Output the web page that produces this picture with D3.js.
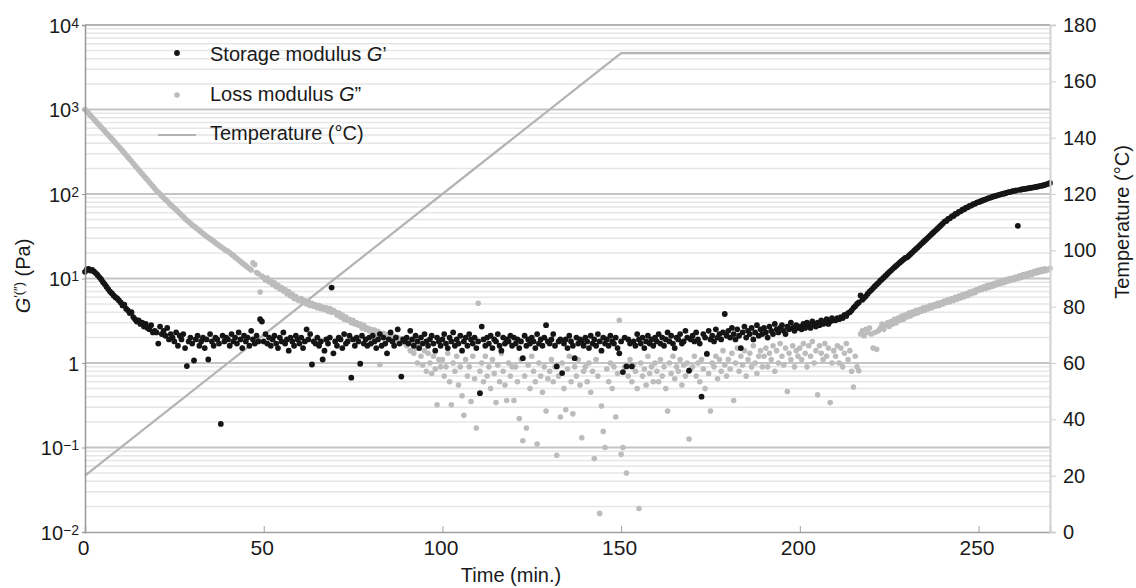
<!DOCTYPE html>
<html>
<head>
<meta charset="utf-8">
<script src="https://cdn.jsdelivr.net/npm/d3@7"></script>
<style>
    body { margin: 0; background: #fff; }
    svg text { font-family: "Liberation Sans", Arial, sans-serif; fill: #1a1a1a; }
</style>
</head>
<body>
<div id="chart"></div>
<script>
// sampling of the rheometer: one reading every half minute from t = 0
const timeStart = 0;
const timeStep = 0.5;

// storage modulus G' (Pa)
const storageModulus = [
    12, 12.8, 13, 12.4, 12.6, 12.1, 11.6, 11.0, 10.4, 9.8, 9.1, 8.6, 8.0, 7.5, 7.0, 6.7, 6.3, 6.0, 5.8, 5.5,
    5.2, 4.8, 4.9, 4.4, 4.2, 3.9, 4.0, 3.5, 3.3, 3.1, 3.2, 2.9, 3.0, 2.7, 2.9, 2.6, 2.5, 2.8, 2.3, 2.4,
    2.3, 1.7, 2.7, 2.2, 2.4, 2.1, 2.6, 1.9, 2.2, 2.0, 1.8, 2.3, 1.6, 2.1, 1.9, 2.2, 1.5, 0.92, 1.8, 2.0,
    1.7, 1.07, 1.9, 2.1, 1.6, 1.8, 2.0, 1.5, 1.9, 1.1, 2.2, 1.8, 1.6, 2.0, 1.9, 1.7, 0.19, 2.1, 1.8, 2.0,
    1.9, 1.6, 2.2, 1.8, 2.0, 1.7, 2.3, 1.9, 1.5, 2.1, 1.8, 2.0, 1.6, 2.4, 1.9, 1.7, 2.1, 1.8, 3.3, 3.1,
    1.8, 2.2, 1.7, 2.0, 1.6, 1.9, 2.1, 1.7, 1.5, 2.0, 1.8, 2.3, 1.7, 1.9, 1.4, 2.0, 1.8, 1.6, 2.1, 1.9,
    1.7, 2.0, 1.5, 1.8, 2.5, 1.9, 2.2, 0.96, 1.8, 1.7, 2.0, 1.6, 1.8, 1.1, 1.4, 1.9, 1.7, 2.0, 7.8, 1.3,
    1.8, 1.6, 2.0, 1.9, 1.5, 2.2, 1.7, 1.8, 2.1, 0.67, 1.9, 1.6, 2.0, 1.8, 0.98, 2.1, 1.7, 1.9, 1.6, 2.0,
    1.7, 2.1, 1.8, 1.5, 1.9, 2.2, 1.6, 2.0, 1.7, 1.3, 1.9, 2.3, 1.8, 1.6, 2.0, 2.5, 1.7, 0.69, 1.9, 1.8,
    2.0, 1.7, 2.4, 1.9, 1.6, 2.1, 1.8, 1.5, 2.0, 1.7, 2.2, 1.8, 1.6, 1.9, 2.1, 1.7, 1.4, 2.0, 1.8, 1.6,
    1.9, 2.2, 1.7, 1.5, 2.0, 1.8, 2.3, 1.6, 1.9, 1.7, 2.1, 1.4, 1.8, 2.0, 1.6, 2.2, 1.9, 1.7, 2.0, 1.5,
    1.8, 0.44, 2.7, 1.9, 1.6, 2.0, 1.7, 2.1, 1.5, 1.9, 1.8, 2.2, 1.6, 1.4, 2.0, 1.7, 1.9, 1.8, 2.1, 1.6,
    2.0, 1.7, 1.9, 1.5, 1.8, 1.14, 2.1, 1.6, 1.9, 1.7, 2.0, 1.8, 1.5, 2.2, 1.7, 1.9, 1.6, 2.0, 2.8, 1.8,
    1.7, 1.9, 2.2, 1.6, 0.91, 1.8, 1.9, 0.76, 1.7, 1.9, 1.5, 2.1, 1.8, 1.6, 1.14, 2.0, 1.7, 1.9, 1.8, 1.6,
    2.0, 1.8, 1.5, 2.1, 1.7, 1.9, 1.6, 2.2, 1.8, 1.4, 2.0, 1.7, 1.9, 1.6, 2.1, 1.8, 1.7, 2.0, 1.5, 1.3,
    1.8, 0.78, 2.0, 0.91, 1.9, 1.7, 0.91, 1.8, 1.6, 2.2, 1.9, 1.7, 2.0, 1.5, 1.8, 2.1, 1.7, 1.9, 1.6, 2.0,
    1.8, 2.2, 1.7, 2.0, 1.6, 1.9, 2.3, 1.8, 2.1, 1.7, 1.5, 2.0, 1.9, 2.2, 1.7, 1.8, 2.4, 2.0, 0.81, 1.9,
    2.1, 1.8, 2.3, 1.9, 1.7, 0.40, 2.2, 2.0, 1.28, 2.4, 1.9, 2.1, 1.8, 2.5, 2.0, 2.2, 1.9, 2.3, 3.8, 2.1,
    2.4, 2.0, 2.6, 2.2, 1.9, 2.5, 2.1, 1.5, 2.3, 2.7, 2.0, 2.4, 2.2, 2.6, 1.9, 2.3, 2.8, 2.1, 2.5, 2.2,
    2.6, 2.3, 2.0, 2.7, 2.4, 2.2, 2.9, 2.5, 2.3, 2.6, 2.8, 2.4, 2.2, 2.7, 2.5, 3.0, 2.6, 2.4, 2.8, 2.6,
    2.7, 2.5, 2.9, 2.6, 3.0, 2.8, 2.6, 3.1, 2.9, 2.7, 3.0, 2.8, 3.2, 2.9, 3.0, 3.3, 2.9, 3.1, 3.4, 3.2,
    3.2, 3.4, 3.3, 3.5, 3.4, 3.7, 3.6, 3.9, 4.0, 4.2, 4.5, 4.7, 5.0, 5.2, 6.3, 5.6, 5.9, 6.2, 6.6, 7.0,
    7.3, 7.7, 8.1, 8.5, 8.9, 9.4, 9.8, 10.3, 10.8, 11.3, 11.9, 12.4, 13.0, 13.6, 14.2, 14.8, 15.5, 16.1, 16.8, 17.5,
    17.8, 18.6, 19.5, 20.4, 21.4, 22.4, 23.4, 24.5, 25.7, 26.9, 28.2, 29.5, 30.9, 32.4, 33.9, 35.5, 37.2, 38.9, 40.7, 42.7,
    44.7, 47.2, 48.0, 50.9, 51.5, 54.4, 55.0, 58.1, 58.8, 61.6, 62.3, 65.2, 66.0, 68.9, 69.6, 72.4, 73.0, 76.0, 76.5, 79.2,
    80, 81.7, 83.4, 85.0, 86.6, 88.2, 89.8, 91.3, 92.8, 94.2, 95.6, 97.0, 98.4, 99.7, 101, 102, 104, 105, 106, 108,
    109, 110, 42, 112, 113, 114, 115, 116, 117, 118, 119, 120, 121, 122, 124, 125, 126, 128, 130, 132, 135
];

// loss modulus G'' (Pa)
const lossModulus = [
    1000, 948, 899, 852, 808, 766, 726, 688, 652, 618, 586, 556, 527, 500, 474, 449, 426, 404, 383, 363,
    343, 324, 306, 289, 273, 258, 244, 230, 217, 205, 194, 183, 173, 163, 154, 146, 138, 130, 123, 116,
    110, 105, 100, 95, 90, 86, 82, 78, 74, 71, 68, 65, 62, 59, 56, 54, 51, 49, 47, 45,
    43, 41.5, 40, 38.5, 37, 35.5, 34, 33, 31.5, 30.5, 29.5, 28.5, 27.5, 26.5, 25.5, 24.5, 23.8, 23, 22.2, 21.5,
    21, 20.2, 19.4, 18.7, 17.9, 17.2, 16.5, 15.9, 15.3, 14.7, 14.1, 13.6, 13.1, 12.6, 15.3, 14.6, 11.8, 11.4, 6.9, 10.7,
    10.2, 9.6, 10.1, 9.1, 9.3, 8.5, 8.9, 8.0, 8.3, 7.5, 7.8, 7.1, 7.4, 6.6, 7.0, 6.2, 6.5, 5.8, 6.1, 5.6,
    5.5, 5.8, 5.2, 5.5, 5.0, 5.3, 4.8, 5.1, 4.7, 4.9, 4.5, 4.8, 4.4, 4.6, 4.3, 4.5, 4.1, 4.4, 4.0, 4.2,
    4.0, 3.7, 3.9, 3.5, 3.7, 3.3, 3.5, 3.2, 3.3, 3.0, 3.2, 2.9, 3.0, 2.8, 2.9, 2.6, 2.8, 2.5, 2.6, 2.4,
    2.5, 2.3, 2.45, 2.2, 2.35, 0.96, 2.1, 2.25, 2.0, 2.15, 1.95, 2.1, 1.9, 2.05, 1.85, 2.0, 1.8, 1.95, 1.75, 1.9,
    1.6, 1.8, 1.4, 1.7, 1.3, 1.5, 1.0, 1.6, 1.2, 0.95, 1.4, 0.80, 1.3, 1.0, 0.75, 1.2, 0.85, 0.32, 1.1, 0.9,
    1.1, 0.7, 0.9, 1.3, 0.6, 0.32, 1.0, 0.8, 1.2, 0.55, 0.9, 0.41, 0.24, 1.1, 0.7, 0.9, 0.35, 1.2, 0.65, 0.17,
    5.1, 0.8, 1.0, 0.6, 1.2, 0.7, 0.9, 0.5, 1.1, 0.75, 0.34, 0.95, 0.6, 1.3, 0.8, 0.55, 0.36, 1.0, 0.7, 0.9,
    0.36, 0.9, 0.6, 0.22, 1.1, 0.12, 0.7, 0.17, 0.95, 0.5, 1.2, 0.8, 0.6, 0.11, 1.0, 0.7, 0.45, 0.9, 0.27, 0.65,
    0.8, 1.1, 0.6, 0.9, 0.081, 0.7, 0.23, 1.0, 0.5, 0.28, 0.85, 1.2, 0.6, 0.25, 0.9, 0.7, 1.1, 0.55, 0.13, 0.8,
    0.9, 0.6, 1.0, 0.45, 0.8, 0.074, 1.1, 0.7, 0.0166, 0.31, 0.155, 0.10, 0.85, 0.6, 1.0, 0.5, 0.9, 0.23, 0.75, 3.2,
    0.083, 0.10, 0.9, 0.05, 0.7, 1.1, 0.6, 0.95, 0.8, 0.5, 0.019, 1.0, 0.7, 0.85, 0.55, 1.2, 0.75, 0.9, 0.6, 1.0,
    0.8, 0.6, 1.1, 0.7, 0.9, 0.5, 0.27, 1.0, 0.75, 1.2, 0.65, 0.9, 0.8, 1.1, 0.55, 0.95, 0.7, 1.0, 0.126, 0.85,
    0.9, 1.2, 0.7, 1.0, 0.6, 1.1, 0.85, 0.5, 1.3, 0.75, 0.27, 1.0, 0.9, 1.2, 0.65, 1.1, 0.8, 1.4, 0.95, 0.7,
    1.1, 0.85, 1.3, 0.36, 1.0, 1.5, 0.8, 1.2, 0.95, 1.4, 0.7, 1.1, 1.3, 0.9, 1.6, 1.0, 0.75, 1.2, 1.4, 0.9,
    1.2, 1.5, 0.9, 1.3, 1.1, 1.6, 0.8, 1.4, 1.0, 1.7, 1.2, 0.95, 1.5, 0.46, 1.3, 1.1, 1.6, 0.9, 1.4, 1.2,
    1.5, 1.1, 1.7, 1.3, 0.9, 1.6, 1.2, 1.8, 1.0, 1.4, 0.42, 1.6, 1.3, 1.1, 1.7, 1.2, 1.5, 0.34, 1.0, 1.4,
    1.2, 1.6, 1.0, 1.5, 0.9, 1.3, 1.7, 1.1, 1.4, 0.8, 0.52, 1.2, 0.9, 0.81, 2.2, 2.4, 2.1, 2.5, 2.3, 2.6,
    2.2, 1.5, 2.3, 1.45, 2.4, 2.6, 2.9, 2.5, 2.8, 3.0, 2.7, 3.1, 2.9, 3.3, 3.0, 3.4, 3.2, 3.6, 3.3, 3.7,
    3.5, 3.9, 3.6, 4.0, 3.8, 4.2, 3.9, 4.3, 4.1, 4.5, 4.2, 4.6, 4.4, 4.8, 4.5, 4.9, 4.7, 5.1, 4.8, 5.2,
    5.0, 5.4, 5.2, 5.6, 5.3, 5.8, 5.5, 6.0, 5.7, 6.2, 5.9, 6.4, 6.1, 6.6, 6.3, 6.9, 6.6, 7.1, 6.8, 7.4,
    7.2, 7.7, 7.4, 8.0, 7.6, 8.3, 7.9, 8.5, 8.1, 8.8, 8.4, 9.1, 8.7, 9.3, 8.9, 9.6, 9.2, 9.9, 9.5, 10.1,
    9.7, 10.4, 10.0, 10.8, 10.3, 11.1, 10.6, 11.4, 10.9, 11.8, 11.2, 12.1, 11.6, 12.5, 11.9, 12.8, 12.2, 13.0, 12.4, 12.8, 13.2
];

// temperature program (°C): ramp then hold
const tempTime = [0, 150, 270];
const tempValues = [20, 170, 170];

// ticks
const timeTicks = [0, 50, 100, 150, 200, 250];
const modulusTicks = [1e-2, 1e-1, 1, 1e1, 1e2, 1e3, 1e4];
const modulusTickBase = ["10", "10", "1", "10", "10", "10", "10"];
const modulusTickExp = ["\u22122", "\u22121", "", "1", "2", "3", "4"];
const tempTicks = [0, 20, 40, 60, 80, 100, 120, 140, 160, 180];

const width = 1136;
const height = 588;
const plotLeft = 85, plotRight = 1050, plotTop = 25, plotBottom = 532;

const svg = d3.select("#chart").append("svg")
    .attr("width", width)
    .attr("height", height);

const x = d3.scaleLinear().domain([0, 270]).range([plotLeft, plotRight]);
const y = d3.scaleLog().domain([1e-2, 1e4]).range([plotBottom, plotTop]);
const yTemp = d3.scaleLinear().domain([0, 180]).range([plotBottom, plotTop]);

// log grid: minor lines first, decades on top
const minorValues = [];
d3.range(-2, 4).forEach(p => {
    d3.range(2, 10).forEach(k => minorValues.push(k * Math.pow(10, p)));
});

svg.append("g")
    .selectAll("line")
    .data(minorValues)
    .join("line")
        .attr("x1", plotLeft).attr("x2", plotRight)
        .attr("y1", d => y(d)).attr("y2", d => y(d))
        .attr("stroke", "#e6e6e6")
        .attr("stroke-width", 1.5);

svg.append("g")
    .selectAll("line")
    .data(modulusTicks.slice(1, -1))
    .join("line")
        .attr("x1", plotLeft).attr("x2", plotRight)
        .attr("y1", d => y(d)).attr("y2", d => y(d))
        .attr("stroke", "#c4c4c4")
        .attr("stroke-width", 1.8);

// top frame
svg.append("line")
    .attr("x1", plotLeft).attr("x2", plotRight)
    .attr("y1", y(1e4)).attr("y2", y(1e4))
    .attr("stroke", "#9a9a9a")
    .attr("stroke-width", 1.5);

// temperature line
const tempLine = d3.line()
    .x((d, i) => x(tempTime[i]))
    .y(d => yTemp(d));

svg.append("path")
    .datum(tempValues)
    .attr("fill", "none")
    .attr("stroke", "#b3b3b3")
    .attr("stroke-width", 2.2)
    .attr("d", tempLine);

// scatter series
const tAt = i => timeStart + i * timeStep;

svg.append("g")
    .selectAll("circle")
    .data(lossModulus)
    .join("circle")
        .attr("cx", (d, i) => x(tAt(i)))
        .attr("cy", d => y(d))
        .attr("r", 2.8)
        .attr("fill", "#bcbcbc");

svg.append("g")
    .selectAll("circle")
    .data(storageModulus)
    .join("circle")
        .attr("cx", (d, i) => x(tAt(i)))
        .attr("cy", d => y(d))
        .attr("r", 2.9)
        .attr("fill", "#151515");

// left axis
const leftAxis = svg.append("g")
    .attr("transform", `translate(${plotLeft},0)`)
    .call(d3.axisLeft(y).tickValues(modulusTicks).tickSize(3).tickPadding(3).tickFormat(""));

leftAxis.select(".domain").attr("stroke", "#999").attr("stroke-width", 1.5);
leftAxis.selectAll(".tick line").attr("stroke", "#999");

leftAxis.selectAll(".tick").append("text")
    .attr("x", -6)
    .attr("dy", "0.36em")
    .attr("text-anchor", "end")
    .attr("font-size", 20)
    .each(function(d, i) {
        const t = d3.select(this);
        t.append("tspan").text(modulusTickBase[i]);
        if (modulusTickExp[i]) {
            t.append("tspan")
                .attr("dy", -5)
                .attr("font-size", 14)
                .text(modulusTickExp[i]);
        }
    });

// bottom axis
const bottomAxis = svg.append("g")
    .attr("transform", `translate(0,${plotBottom})`)
    .call(d3.axisBottom(x).tickValues(timeTicks).tickSize(-6).tickPadding(8));

bottomAxis.select(".domain").attr("stroke", "#a0a0a0").attr("stroke-width", 1.5);
bottomAxis.selectAll(".tick line").attr("stroke", "#a0a0a0");
bottomAxis.selectAll("text")
    .attr("font-size", 21)
    .attr("dx", -2);

// right axis
const rightAxis = svg.append("g")
    .attr("transform", `translate(${plotRight},0)`)
    .call(d3.axisRight(yTemp).tickValues(tempTicks).tickSize(6).tickPadding(7));

rightAxis.select(".domain").attr("stroke", "#d2d2d2").attr("stroke-width", 2);
rightAxis.selectAll(".tick line").attr("stroke", "#cfcfcf");
rightAxis.selectAll("text").attr("font-size", 20);

// axis titles
svg.append("text")
    .attr("x", 511)
    .attr("y", 582)
    .attr("text-anchor", "middle")
    .attr("font-size", 20)
    .text("Time (min.)");

const yTitle = svg.append("text")
    .attr("transform", "translate(30,276) rotate(-90)")
    .attr("text-anchor", "middle")
    .attr("font-size", 20);
yTitle.append("tspan").attr("font-style", "italic").text("G");
yTitle.append("tspan").attr("font-size", 13).attr("dy", -7).text("\u2032(\u2033)");
yTitle.append("tspan").attr("dy", 7).text(" (Pa)");

svg.append("text")
    .attr("transform", "translate(1129,222) rotate(-90)")
    .attr("text-anchor", "middle")
    .attr("font-size", 20)
    .text("Temperature (\u00b0C)");

// legend
const legend = svg.append("g");

legend.append("circle").attr("cx", 177).attr("cy", 53).attr("r", 2.9).attr("fill", "#151515");
const l1 = legend.append("text").attr("x", 210).attr("y", 61).attr("font-size", 20);
l1.append("tspan").text("Storage modulus ");
l1.append("tspan").attr("font-style", "italic").text("G");
l1.append("tspan").text("\u2019");

legend.append("circle").attr("cx", 177).attr("cy", 95).attr("r", 2.8).attr("fill", "#bcbcbc");
const l2 = legend.append("text").attr("x", 210).attr("y", 101).attr("font-size", 20);
l2.append("tspan").text("Loss modulus ");
l2.append("tspan").attr("font-style", "italic").text("G");
l2.append("tspan").text("\u201d");

legend.append("line")
    .attr("x1", 158).attr("x2", 196)
    .attr("y1", 135).attr("y2", 135)
    .attr("stroke", "#b3b3b3")
    .attr("stroke-width", 2.2);
legend.append("text").attr("x", 210).attr("y", 140).attr("font-size", 20).text("Temperature (\u00b0C)");
</script>
</body>
</html>
